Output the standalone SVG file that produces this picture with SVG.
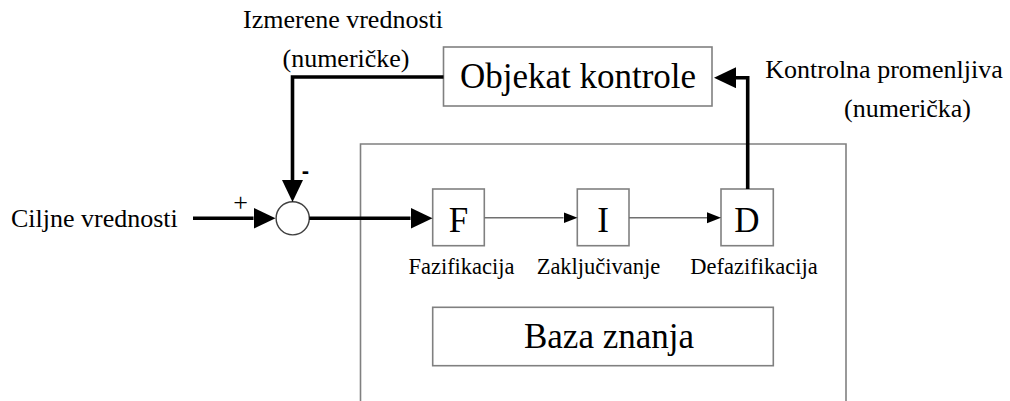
<svg xmlns="http://www.w3.org/2000/svg" width="1010" height="401" viewBox="0 0 1010 401">
<style>
.box{fill:#fff;stroke:#808080;stroke-width:1.6}
.thick{fill:none;stroke:#000;stroke-width:3.6}
.thin{fill:none;stroke:#707070;stroke-width:1.6}
</style>
<defs>
<marker id="ab" markerUnits="userSpaceOnUse" markerWidth="24" markerHeight="24" refX="0" refY="10.5" orient="auto">
<path d="M0,0 L22,10.5 L0,21 z" fill="#000"/>
</marker>
<marker id="as" markerUnits="userSpaceOnUse" markerWidth="16" markerHeight="12" refX="0" refY="5.5" orient="auto">
<path d="M0,0 L14,5.5 L0,11 z" fill="#000"/>
</marker>
</defs>
<rect x="0" y="0" width="1010" height="401" fill="#fff"/>
<g id="outer">
<path d="M360.5,405 L360.5,144 L846,144 L846,405" fill="none" stroke="#808080" stroke-width="1.6"/>
</g>
<g id="objekat">
<rect class="box" x="443.5" y="47" width="268.5" height="59"/>
<text x="578" y="88" text-anchor="middle" font-family="Liberation Serif" font-size="35">Objekat kontrole</text>
</g>
<g id="sum">
<circle cx="292.7" cy="218.3" r="16.6" fill="#fff" stroke="#404040" stroke-width="1.4"/>
<text x="240.5" y="211" text-anchor="middle" font-family="Liberation Serif" font-size="26">+</text>
<text x="305.5" y="178" text-anchor="middle" font-family="Liberation Sans" font-size="22" font-weight="bold">-</text>
</g>
<g id="F">
<rect class="box" x="432.7" y="189" width="51.6" height="56.7"/>
<text x="458.5" y="232" text-anchor="middle" font-family="Liberation Serif" font-size="35">F</text>
<text x="461.5" y="274" text-anchor="middle" font-family="Liberation Serif" font-size="22.5">Fazifikacija</text>
</g>
<g id="I">
<rect class="box" x="577.3" y="189" width="51.7" height="56.7"/>
<text x="603" y="232" text-anchor="middle" font-family="Liberation Serif" font-size="35">I</text>
<text x="598.5" y="274" text-anchor="middle" font-family="Liberation Serif" font-size="22.5">Zaključivanje</text>
</g>
<g id="D">
<rect class="box" x="721" y="189" width="52.3" height="56.7"/>
<text x="747" y="232" text-anchor="middle" font-family="Liberation Serif" font-size="35">D</text>
<text x="754" y="274" text-anchor="middle" font-family="Liberation Serif" font-size="22.5">Defazifikacija</text>
</g>
<g id="baza">
<rect class="box" x="432.7" y="307.3" width="340.6" height="58.4"/>
<text x="609" y="348" text-anchor="middle" font-family="Liberation Serif" font-size="35">Baza znanja</text>
</g>
<g id="labels">
<text x="343" y="28" text-anchor="middle" font-family="Liberation Serif" font-size="26">Izmerene vrednosti</text>
<text x="346" y="67" text-anchor="middle" font-family="Liberation Serif" font-size="26">(numeričke)</text>
<text x="884" y="78" text-anchor="middle" font-family="Liberation Serif" font-size="26">Kontrolna promenljiva</text>
<text x="907.5" y="117" text-anchor="middle" font-family="Liberation Serif" font-size="26">(numerička)</text>
<text x="11" y="227" font-family="Liberation Serif" font-size="26">Ciljne vrednosti</text>
</g>
<g id="connectors">
<path class="thick" d="M193,218.3 L253.5,218.3" marker-end="url(#ab)"/>
<path class="thick" d="M443.5,77 L292.5,77 L292.5,180" marker-end="url(#ab)"/>
<path class="thick" d="M309.3,218.3 L410.5,218.3" marker-end="url(#ab)"/>
<path class="thick" d="M747.7,189 L747.7,77.7 L736,77.7" marker-end="url(#ab)"/>
<path class="thin" d="M484.3,217.7 L563.5,217.7" marker-end="url(#as)"/>
<path class="thin" d="M629,217.7 L707,217.7" marker-end="url(#as)"/>
</g>
</svg>
